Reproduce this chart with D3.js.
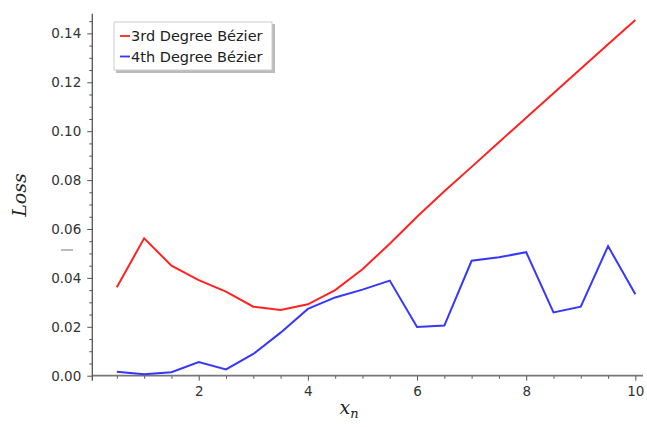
<!DOCTYPE html>
<html>
<head>
<meta charset="utf-8">
<script src="https://cdn.jsdelivr.net/npm/d3@7"></script>
<style>
  body { margin: 0; background: #fff; }
  text { font-family: "DejaVu Sans", sans-serif; }
</style>
</head>
<body>
<svg id="chart" width="647" height="427"></svg>
<script>
// x positions (n) and losses
var xValues = [0.5, 1, 1.5, 2, 2.5, 3, 3.5, 4, 4.5, 5, 5.5, 6, 6.5, 7, 7.5, 8, 8.5, 9, 9.5, 10]
var cubicLoss = [0.0362, 0.0562, 0.0450, 0.0391, 0.0344, 0.0282, 0.0269, 0.0292, 0.0350, 0.0435,
                 0.0540, 0.0650, 0.0754, 0.0854, 0.0955, 0.1055, 0.1155, 0.1255, 0.1355, 0.1455]
var quarticLoss = [0.0016, 0.0006, 0.0014, 0.0056, 0.0026, 0.0089, 0.0176, 0.0273, 0.0320, 0.0352,
                   0.0389, 0.0199, 0.0205, 0.0470, 0.0484, 0.0505, 0.0259, 0.0282, 0.0530, 0.0333]
var seriesNames = ["3rd Degree Bézier", "4th Degree Bézier"]
var seriesColors = ["#ff2222", "#3636ff"]
var xTicks = [2, 4, 6, 8, 10]
var yTicks = [0, 0.02, 0.04, 0.06, 0.08, 0.10, 0.12, 0.14]

var dimensions = {
    width: 647,
    height: 427,
    left: 92.3,
    right: 643,
    top: 13.8,
    bottom: 375.7
}

var svg = d3.select("#chart")

var xScale = d3.scaleLinear()
    .domain([0.05, 10.14])
    .range([dimensions.left, dimensions.right])

var yScale = d3.scaleLinear()
    .domain([0, 0.148])
    .range([dimensions.bottom, dimensions.top])

var axisColor = "#555"

// minor ticks
var xMinor = d3.range(0.5, 10.01, 0.5).filter(v => xTicks.indexOf(v) < 0)
var yMinor = d3.range(0.005, 0.146, 0.005).filter(v => Math.abs(Math.round(v * 50) - v * 50) > 1e-6)

svg.append("g")
    .attr("transform", "translate(0," + dimensions.bottom + ")")
    .call(d3.axisBottom(xScale).tickValues(xMinor).tickSize(3).tickFormat(""))
    .call(g => g.select(".domain").remove())
    .selectAll("line").attr("stroke", axisColor)

svg.append("g")
    .attr("transform", "translate(" + dimensions.left + ",0)")
    .call(d3.axisLeft(yScale).tickValues(yMinor).tickSize(3).tickFormat(""))
    .call(g => g.select(".domain").remove())
    .selectAll("line").attr("stroke", axisColor)

// major ticks + labels
var xAxis = svg.append("g")
    .attr("transform", "translate(0," + dimensions.bottom + ")")
    .call(d3.axisBottom(xScale).tickValues(xTicks).tickSize(5).tickPadding(6).tickFormat(d3.format("d")))
xAxis.select(".domain").attr("stroke", "#777").attr("stroke-width", 1.8)
    .attr("d", "M" + dimensions.left + ",0H" + dimensions.right)
xAxis.selectAll("line").attr("stroke", axisColor)
xAxis.selectAll("text").attr("fill", "#333").style("font-size", "13.5px")

var yAxis = svg.append("g")
    .attr("transform", "translate(" + dimensions.left + ",0)")
    .call(d3.axisLeft(yScale).tickValues(yTicks).tickSize(5).tickPadding(6).tickFormat(d3.format(".2f")))
yAxis.select(".domain").attr("stroke", axisColor).attr("stroke-width", 1.3)
    .attr("d", "M0," + (dimensions.bottom + 5) + "V" + dimensions.top)
yAxis.selectAll("line").attr("stroke", axisColor)
yAxis.selectAll("text").attr("fill", "#333").style("font-size", "13.5px")

// lines
var line = d3.line()
    .x((d, i) => xScale(xValues[i]))
    .y(d => yScale(d))

;[cubicLoss, quarticLoss].forEach(function (s, k) {
    svg.append("path")
        .datum(s)
        .attr("d", line)
        .attr("fill", "none")
        .attr("stroke", seriesColors[k])
        .attr("stroke-width", 2)
        .attr("stroke-linejoin", "miter")
})

// axis labels
svg.append("text")
    .attr("transform", "translate(26,195) rotate(-90)")
    .attr("text-anchor", "middle")
    .style("font-family", "'DejaVu Serif', serif")
    .style("font-style", "italic")
    .style("font-size", "19px")
    .attr("fill", "#222")
    .text("Loss")

svg.append("line")
    .attr("x1", 61).attr("x2", 73)
    .attr("y1", 250).attr("y2", 250)
    .attr("stroke", "#777").attr("stroke-width", 1)

var xl = svg.append("text")
    .attr("x", 349)
    .attr("y", 414)
    .attr("text-anchor", "middle")
    .style("font-family", "'DejaVu Serif', serif")
    .style("font-style", "italic")
    .style("font-size", "19px")
    .attr("fill", "#222")
xl.append("tspan").text("x")
xl.append("tspan").attr("dy", 4).style("font-size", "13px").text("n")

// legend
var legend = svg.append("g").attr("transform", "translate(114,22)")
legend.append("rect")
    .attr("x", 2).attr("y", 2).attr("width", 159).attr("height", 49)
    .attr("fill", "#bbb")
legend.append("rect")
    .attr("x", 0).attr("y", 0).attr("width", 158).attr("height", 48)
    .attr("fill", "#fff").attr("stroke", "#ccc").attr("stroke-width", 1)

seriesNames.forEach(function (name, i) {
    var y = 14 + i * 20.5
    legend.append("line")
        .attr("x1", 6).attr("x2", 16)
        .attr("y1", y).attr("y2", y)
        .attr("stroke", seriesColors[i]).attr("stroke-width", 1.8)
    legend.append("text")
        .attr("x", 17).attr("y", y)
        .attr("dy", "0.35em")
        .style("font-size", "14.5px")
        .attr("fill", "#222")
        .text(name)
})
</script>
</body>
</html>
